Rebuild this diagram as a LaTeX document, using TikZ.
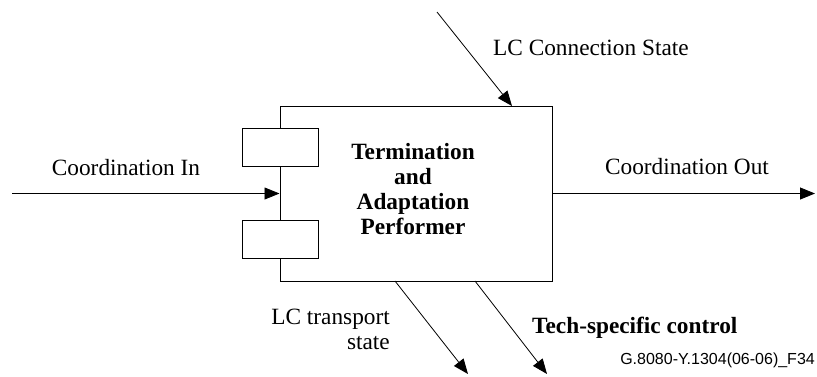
\documentclass[tikz,border=0pt]{standalone}
\usepackage{fontspec}
\setmainfont{Liberation Serif}
\newfontfamily\labelsans{Liberation Sans}
\usetikzlibrary{arrows.meta,calc}
\tikzset{
  box/.style={draw, line width=1pt, inner sep=0pt},
  port/.style={draw, fill=white, line width=1pt, minimum width=76pt, minimum height=38pt, inner sep=0pt},
  arr/.style={line width=0.8pt, -{Triangle[length=15pt,width=12pt]}},
  lbl/.style={font=\fontsize{23.3}{25}\selectfont, inner sep=0pt},
  blbl/.style={font=\fontsize{23.3}{25}\selectfont\bfseries, inner sep=0pt, align=center},
}
\begin{document}
\begin{tikzpicture}[x=1pt,y=-1pt]
\useasboundingbox (0,0) rectangle (817,376);
\node[box, minimum width=272pt, minimum height=175pt] (main) at (416,193.5) {};
\node[port] (p1) at (280,147) {};
\node[port] (p2) at (280,239) {};
\node[blbl] (title) at (413,189.5) {Termination\\and\\Adaptation\\Performer};
% free ends
\coordinate (inL) at (12,193.5);
\coordinate (outR) at (815,193.5);
\coordinate (lcsrc) at (437,12);
\coordinate (lcend) at (512,106);
\coordinate (ts1) at (395,281);
\coordinate (te1) at (468,374);
\coordinate (ts2) at (475,281);
\coordinate (te2) at (547,374);
\draw[arr] (inL) -- (main.west);
\draw[arr] (main.east) -- (outR);
\draw[arr] (lcsrc) -- (lcend);
\draw[arr] (ts1) -- (te1);
\draw[arr] (ts2) -- (te2);
% labels
\node[lbl] (cin) at (126,168) {Coordination In};
\node[lbl] (cout) at (687,167) {Coordination Out};
\node[lbl, anchor=west] (lcs) at (493,48) {LC Connection State};
\node[lbl, align=right, anchor=east] (lct) at (390,329) {LC transport\\state};
\node[blbl, anchor=west] (tsc) at (532,328) {Tech-specific control};
\node[font=\labelsans\fontsize{16}{18}\selectfont, inner sep=0pt, anchor=east] (fig) at (815,360) {G.8080-Y.1304(06-06)\_F34};
\end{tikzpicture}
\end{document}
